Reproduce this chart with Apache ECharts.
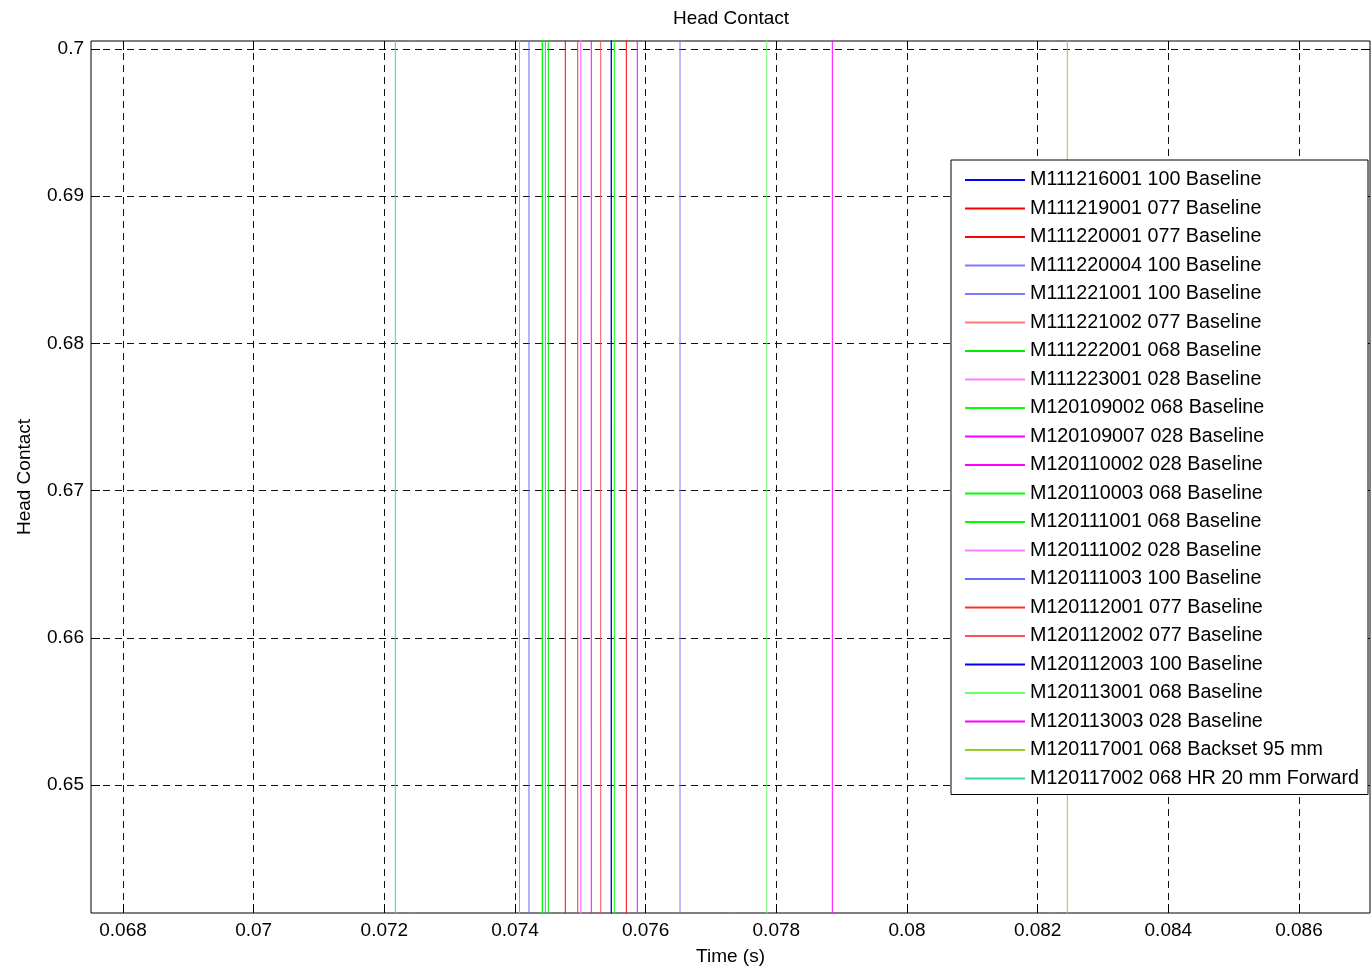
<!DOCTYPE html>
<html><head><meta charset="utf-8">
<script src="https://cdn.jsdelivr.net/npm/echarts@6/dist/echarts.min.js"></script>
<style>html,body{margin:0;padding:0;background:#fff}#c{width:1371px;height:968px}</style>
</head><body><div id="c"></div>
<script>
// ---- data ----
const seriesNames = [
  'M111216001 100 Baseline','M111219001 077 Baseline','M111220001 077 Baseline','M111220004 100 Baseline',
  'M111221001 100 Baseline','M111221002 077 Baseline','M111222001 068 Baseline','M111223001 028 Baseline',
  'M120109002 068 Baseline','M120109007 028 Baseline','M120110002 028 Baseline','M120110003 068 Baseline',
  'M120111001 068 Baseline','M120111002 028 Baseline','M120111003 100 Baseline','M120112001 077 Baseline',
  'M120112002 077 Baseline','M120112003 100 Baseline','M120113001 068 Baseline','M120113003 028 Baseline',
  'M120117001 068 Backset 95 mm','M120117002 068 HR 20 mm Forward'
];
// time (s) at which head contact occurs for each test
const contactTimes = [
  0.075474, 0.074770, 0.075704, 0.076526,
  0.074464, 0.074069, 0.074510, 0.075006,
  0.075520, 0.075168, 0.075872, 0.074418,
  0.074418, 0.075006, 0.074214, 0.074960,
  0.075312, 0.075474, 0.077853, 0.078857,
  0.082454, 0.072168
];
const seriesColors = [
  '#0000ff','#ff0000','#ff0000','#7a7aff',
  '#7a7aff','#ff7a7a','#00ee00','#ff80ff',
  '#00ff00','#ff00ff','#ff00ff','#00ff00',
  '#00ff00','#ff80ff','#6a6aff','#ff3030',
  '#ff5050','#0000ff','#66ff66','#ff00ff',
  '#99cc33','#33dd99'
];
const contactLevels = [0, 1];
const xTicks = [0.068,0.07,0.072,0.074,0.076,0.078,0.08,0.082,0.084,0.086];
const yTicks = [0.65,0.66,0.67,0.68,0.69,0.7];
const xRange = [0.06751, 0.087087];
const yRange = [0.641304, 0.700543];

// ---- chart ----
const chart = echarts.init(document.getElementById('c'), null, {renderer: 'canvas'});
const font = "'Liberation Sans', Arial, Helvetica, sans-serif";

const lineSeries = seriesNames.map((name, i) => ({
  name: name,
  type: 'line',
  xAxisIndex: 0, yAxisIndex: 0,
  data: contactLevels.map(v => [contactTimes[i], v]),
  symbol: 'none',
  clip: true,
  silent: true,
  color: seriesColors[i],
  lineStyle: {color: seriesColors[i], width: 1},
  z: 3
}));

const gridLine = {show: true, lineStyle: {type: [7,5], color: '#111', width: 1}};

const option = {
  animation: false,
  backgroundColor: '#fff',
  title: {
    text: 'Head Contact',
    left: 731, top: 8, textAlign: 'center', padding: 0,
    textStyle: {fontFamily: font, fontSize: 19, fontWeight: 'normal', color: '#000', lineHeight: 22}
  },
  grid: {left: 91, top: 41, right: 1, bottom: 55, show: true, borderColor: '#000', borderWidth: 1,
         backgroundColor: 'transparent', containLabel: false, outerBoundsMode: 'none'},
  legend: {
    data: seriesNames,
    orient: 'vertical',
    left: 951, top: 160,
    padding: [10, 9, 6, 13],
    itemWidth: 60, itemHeight: 14, itemGap: 8.5,
    backgroundColor: '#fff',
    borderColor: '#000', borderWidth: 1,
    selectedMode: false,
    itemStyle: {opacity: 0},
    textStyle: {fontFamily: font, fontSize: 19.7, color: '#000', lineHeight: 20}
  },
  xAxis: [
    {
      type: 'value', min: xRange[0], max: xRange[1], position: 'bottom',
      axisLine: {show: false},
      splitLine: gridLine,
      name: 'Time (s)', nameLocation: 'middle', nameGap: 34,
      nameTextStyle: {fontFamily: font, fontSize: 19, color: '#000'},
      axisTick: {show: true, inside: true, length: 9, customValues: xTicks, lineStyle: {color: '#000'}},
      axisLabel: {show: true, customValues: xTicks, margin: 8, fontFamily: font, fontSize: 19, color: '#000'}
    },
    {
      type: 'value', min: xRange[0], max: xRange[1], position: 'top',
      axisLine: {show: false}, splitLine: {show: false},
      axisTick: {show: true, inside: true, length: 9, customValues: xTicks, lineStyle: {color: '#000'}},
      axisLabel: {show: false, customValues: xTicks}
    }
  ],
  yAxis: [
    {
      type: 'value', min: yRange[0], max: yRange[1], position: 'left',
      axisLine: {show: false},
      splitLine: gridLine,
      name: 'Head Contact', nameLocation: 'middle', nameGap: 57,
      nameTextStyle: {fontFamily: font, fontSize: 19, color: '#000'},
      axisTick: {show: true, inside: true, length: 9, customValues: yTicks, lineStyle: {color: '#000'}},
      axisLabel: {show: true, customValues: yTicks, margin: 7, fontFamily: font, fontSize: 19, color: '#000'}
    },
    {
      type: 'value', min: yRange[0], max: yRange[1], position: 'right',
      axisLine: {show: false}, splitLine: {show: false},
      axisTick: {show: true, inside: true, length: 9, customValues: yTicks, lineStyle: {color: '#000'}},
      axisLabel: {show: false, customValues: yTicks}
    }
  ],
  series: lineSeries
};
chart.setOption(option);
</script></body></html>
